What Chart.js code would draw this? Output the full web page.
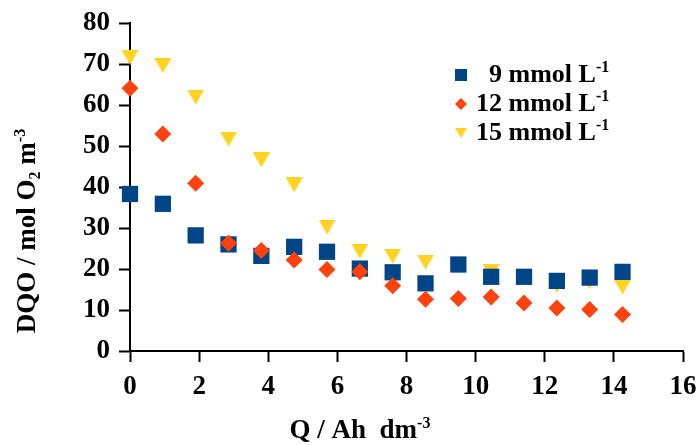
<!DOCTYPE html>
<html lang="en">
<head>
  <meta charset="UTF-8" />
  <title>DQO vs Q</title>
  <script src="https://cdn.jsdelivr.net/npm/chart.js"></script>
  <style>
    html, body {
      margin: 0;
      padding: 0;
      background: #fff;
    }
    #wrap {
      width: 700px;
      height: 445px;
    }
  </style>
</head>
<body>
  <div id="wrap"><canvas id="dqoChart"></canvas></div>

  <script>
    // charge passed, Ah dm-3
    const charge = [0, 0.95, 1.9, 2.85, 3.8, 4.75, 5.7, 6.65, 7.6, 8.55, 9.5, 10.45, 11.4, 12.35, 13.3, 14.25];

    // DQO, mol O2 m-3, for each concentration
    const dqo9 = [38.3, 35.9, 28.2, 26.0, 23.2, 25.4, 24.2, 20.1, 19.2, 16.5, 21.1, 18.1, 18.1, 17.1, 17.9, 19.3];
    const dqo12 = [64.1, 52.9, 40.9, 26.3, 24.5, 22.2, 19.9, 19.3, 15.9, 12.6, 12.8, 13.2, 11.7, 10.5, 10.1, 8.9];
    const dqo15 = [71.6, 69.6, 61.9, 51.7, 46.6, 40.5, 30.2, 24.3, 23.1, 21.7, 21.1, 19.4, 18.0, 16.0, 16.9, 15.6];

    const concentrations = ["9", "12", "15"];
    const colors = ["#004586", "#ff420e", "#ffd320"];

    const xTicks = { min: 0, max: 16, step: 2 };
    const yTicks = { min: 0, max: 80, step: 10 };

    const FONT = '"Liberation Serif", "Times New Roman", serif';

    // down-pointing triangle marker, centred on its bounding box
    function downTriangle(w, h, color) {
      const c = document.createElement("canvas");
      c.width = w;
      c.height = h;
      const g = c.getContext("2d");
      g.fillStyle = color;
      g.beginPath();
      g.moveTo(0, 0);
      g.lineTo(w, 0);
      g.lineTo(w / 2, h);
      g.closePath();
      g.fill();
      return c;
    }

    // draws a run of text pieces, some raised or lowered
    function drawRich(ctx, parts, x, y, size) {
      let cx = x;
      for (const p of parts) {
        const small = p.sup || p.sub;
        ctx.font = "bold " + (small ? Math.round(size * 0.6) : size) + "px " + FONT;
        const dy = p.sup ? -size * 0.38 : p.sub ? size * 0.2 : 0;
        ctx.fillText(p.t, cx, y + dy);
        cx += ctx.measureText(p.t).width;
      }
      return cx - x;
    }

    function richWidth(ctx, parts, size) {
      let w = 0;
      for (const p of parts) {
        const small = p.sup || p.sub;
        ctx.font = "bold " + (small ? Math.round(size * 0.6) : size) + "px " + FONT;
        w += ctx.measureText(p.t).width;
      }
      return w;
    }

    const yTitle = [{ t: "DQO / mol O" }, { t: "2", sub: true }, { t: " m" }, { t: "-3", sup: true }];
    const xTitle = [{ t: "Q / Ah  dm" }, { t: "-3", sup: true }];

    const decorations = {
      id: "decorations",
      afterDraw(chart) {
        const ctx = chart.ctx;
        ctx.save();
        ctx.fillStyle = "#000";
        ctx.textBaseline = "alphabetic";
        ctx.textAlign = "left";

        // x axis title
        const wx = richWidth(ctx, xTitle, 27);
        drawRich(ctx, xTitle, 360 - wx / 2, 438, 27);

        // y axis title
        const wy = richWidth(ctx, yTitle, 27);
        ctx.save();
        ctx.translate(35, 231);
        ctx.rotate(-Math.PI / 2);
        drawRich(ctx, yTitle, -wy / 2, 0, 27);
        ctx.restore();

        // legend
        const rows = [75, 104, 133];
        chart.data.datasets.forEach((ds, i) => {
          const y = rows[i];
          ctx.fillStyle = ds.backgroundColor;
          ctx.beginPath();
          if (i === 0) {
            ctx.rect(455, y - 6, 12, 12);
          } else if (i === 1) {
            ctx.moveTo(461, y - 6);
            ctx.lineTo(467, y);
            ctx.lineTo(461, y + 6);
            ctx.lineTo(455, y);
          } else {
            ctx.moveTo(455, y - 5);
            ctx.lineTo(467, y - 5);
            ctx.lineTo(461, y + 5);
          }
          ctx.closePath();
          ctx.fill();

          ctx.fillStyle = "#000";
          ctx.font = "bold 26px " + FONT;
          ctx.textAlign = "right";
          ctx.fillText(concentrations[i], 502, y + 7);
          ctx.textAlign = "left";
          drawRich(ctx, [{ t: " mmol L" }, { t: "-1", sup: true }], 502, y + 7, 26);
        });
        ctx.restore();
      }
    };

    const tickFont = { family: FONT, size: 27, weight: "bold" };

    new Chart(document.getElementById("dqoChart"), {
      type: "scatter",
      data: {
        datasets: [
          {
            label: concentrations[0] + " mmol L-1",
            data: charge.map((q, i) => ({ x: q, y: dqo9[i] })),
            backgroundColor: colors[0],
            borderWidth: 0,
            pointStyle: "rect",
            pointRadius: 11.5,
            clip: false,
            order: 1
          },
          {
            label: concentrations[1] + " mmol L-1",
            data: charge.map((q, i) => ({ x: q, y: dqo12[i] })),
            backgroundColor: colors[1],
            borderWidth: 0,
            pointStyle: "rectRot",
            pointRadius: 8.5,
            clip: false,
            order: 0
          },
          {
            label: concentrations[2] + " mmol L-1",
            data: charge.map((q, i) => ({ x: q, y: dqo15[i] })),
            backgroundColor: colors[2],
            borderWidth: 0,
            pointStyle: downTriangle(17, 15, colors[2]),
            clip: false,
            order: 2
          }
        ]
      },
      options: {
        responsive: true,
        maintainAspectRatio: false,
        animation: false,
        layout: { padding: { top: 23, right: 17, left: 0, bottom: 0 } },
        plugins: {
          legend: { display: false },
          tooltip: { enabled: false }
        },
        scales: {
          x: {
            type: "linear",
            min: xTicks.min,
            max: xTicks.max,
            ticks: { stepSize: xTicks.step, font: tickFont, color: "#000", padding: 9 },
            grid: { drawOnChartArea: false, tickLength: 11, tickColor: "#000", tickWidth: 2 },
            border: { color: "#000", width: 2 },
            afterFit: s => {
              s.height = 94;
              s.paddingLeft = 0;
              s.paddingRight = 0;
            }
          },
          y: {
            min: yTicks.min,
            max: yTicks.max,
            ticks: { stepSize: yTicks.step, font: tickFont, color: "#000", padding: 9 },
            grid: { drawOnChartArea: false, tickLength: 11, tickColor: "#000", tickWidth: 2 },
            border: { color: "#000", width: 2 },
            afterFit: s => {
              s.width = 130;
              s.paddingTop = 0;
              s.paddingBottom = 0;
            }
          }
        }
      },
      plugins: [decorations]
    });
  </script>
</body>
</html>
